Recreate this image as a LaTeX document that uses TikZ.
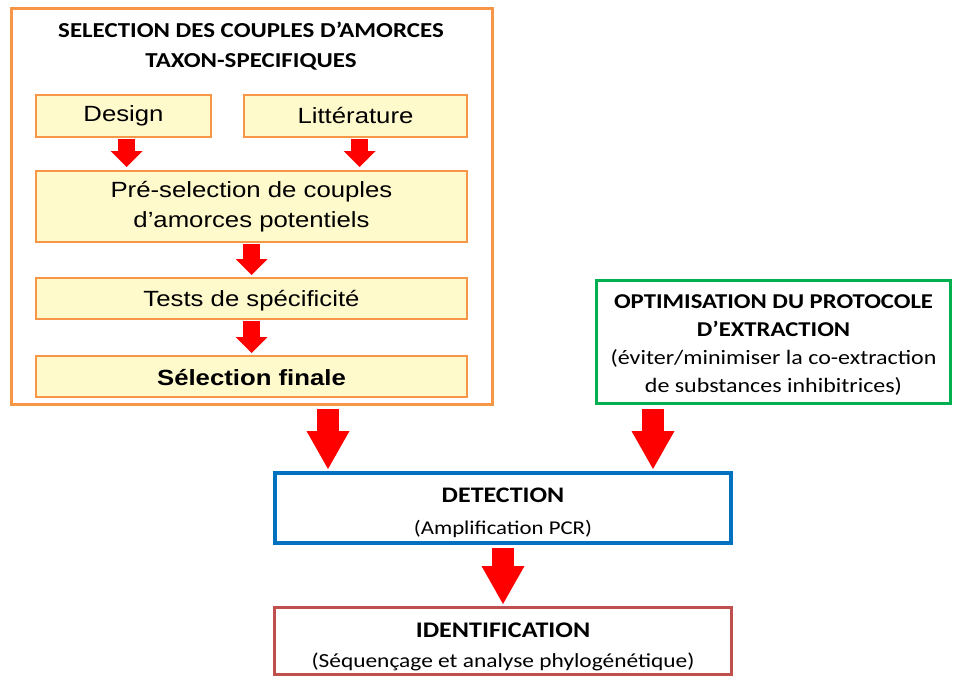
\documentclass[tikz,border=0pt]{standalone}
\usepackage{fontspec}
\setmainfont[FakeStretch=1.17]{Liberation Sans}
\newfontfamily\calibri[FakeStretch=1.17]{Carlito}
\usetikzlibrary{arrows.meta}
\definecolor{borange}{HTML}{F79646}
\definecolor{lightyel}{HTML}{FFFACC}
\definecolor{arrred}{HTML}{FF0000}
\definecolor{bblue}{HTML}{0070C0}
\definecolor{bgreen}{HTML}{00B050}
\definecolor{bred}{HTML}{C0504D}
\tikzset{
  inbox/.style={draw=borange, line width=2pt, fill=lightyel, minimum width=431pt,
    minimum height=41pt, inner sep=0pt, font=\fontsize{22}{30}\selectfont, align=center},
  mainbox/.style={line width=3pt, inner sep=0pt, align=center, fill=white},
  smallarr/.style={draw=arrred, line width=17pt,
    -{Triangle[width=32pt,length=16pt,line width=0pt]}},
  bigarr/.style={draw=arrred, line width=22pt,
    -{Triangle[width=43pt,length=38pt,line width=0pt]}},
}
\begin{document}
\begin{tikzpicture}[x=1pt,y=-1pt]
\useasboundingbox (0,0) rectangle (954,677);
% outer selection box
\node[draw=borange, line width=3pt, minimum width=481pt, minimum height=395pt, inner sep=0pt]
  (outer) at (251.5,206.5) {};
\node[font=\calibri\bfseries\fontsize{21.3}{30}\selectfont, align=center, inner sep=0pt]
  (title) at (251,46.5) {SELECTION DES COUPLES D’AMORCES\\TAXON-SPECIFIQUES};
\node[inbox, minimum width=175pt, minimum height=42pt] (design) at (123.5,116) {Design};
\node[inbox, minimum width=223pt, minimum height=42pt] (litt) at (355.5,116) {Littérature};
\node[inbox, minimum height=71pt] (pre) at (251.5,206.5) {Pré-selection de couples\\d’amorces potentiels};
\node[inbox] (tests) at (251.5,298.5) {\rule{0pt}{20pt}Tests de spécificité};
\node[inbox, font=\bfseries\fontsize{22}{30}\selectfont] (final) at (251.5,376.5) {\rule{0pt}{18pt}Sélection finale};
% green box
\node[mainbox, draw=bgreen, minimum width=354pt, minimum height=123pt,
  font=\calibri\fontsize{20.5}{28}\selectfont] (opt) at (773.5,342)
  {\rule{0pt}{20.6pt}{\bfseries\fontsize{21.1}{28}\selectfont OPTIMISATION DU PROTOCOLE}\\
   {\bfseries\fontsize{21.1}{28}\selectfont D’EXTRACTION}\\
   (éviter/minimiser la co-extraction\\de substances inhibitrices)};
% detection
\node[mainbox, draw=bblue, line width=4pt, minimum width=456pt, minimum height=70pt,
  font=\calibri\fontsize{19.5}{32}\selectfont] (det) at (503,508)
  {\rule{0pt}{24.3pt}{\bfseries\fontsize{22.2}{32}\selectfont DETECTION}\\(Amplification PCR)};
% identification
\node[mainbox, draw=bred, minimum width=457pt, minimum height=67pt,
  font=\calibri\fontsize{20}{30}\selectfont] (ident) at (503,641)
  {\rule{0pt}{26.4pt}{\bfseries\fontsize{22.3}{30}\selectfont IDENTIFICATION}\\(Séquençage et analyse phylogénétique)};
% small arrows
\draw[smallarr, shorten <=1pt, shorten >=3pt] ([xshift=3pt]design.south) -- ([xshift=3pt]design.south |- pre.north);
\draw[smallarr, shorten <=1pt, shorten >=3pt] ([xshift=4pt]litt.south) -- ([xshift=4pt]litt.south |- pre.north);
\draw[smallarr, shorten <=1pt, shorten >=2pt] (pre.south) -- (tests.north);
\draw[smallarr, shorten <=1pt, shorten >=2pt] (tests.south) -- (final.north);
% big arrows
\coordinate (la) at (328,409);
\coordinate (ra) at (653,409);
\draw[bigarr, shorten >=2pt] (la) -- (la |- det.north);
\draw[bigarr, shorten >=2pt] (ra) -- (ra |- det.north);
\draw[bigarr, shorten <=3pt, shorten >=2pt] (det.south) -- (ident.north);
\end{tikzpicture}
\end{document}
